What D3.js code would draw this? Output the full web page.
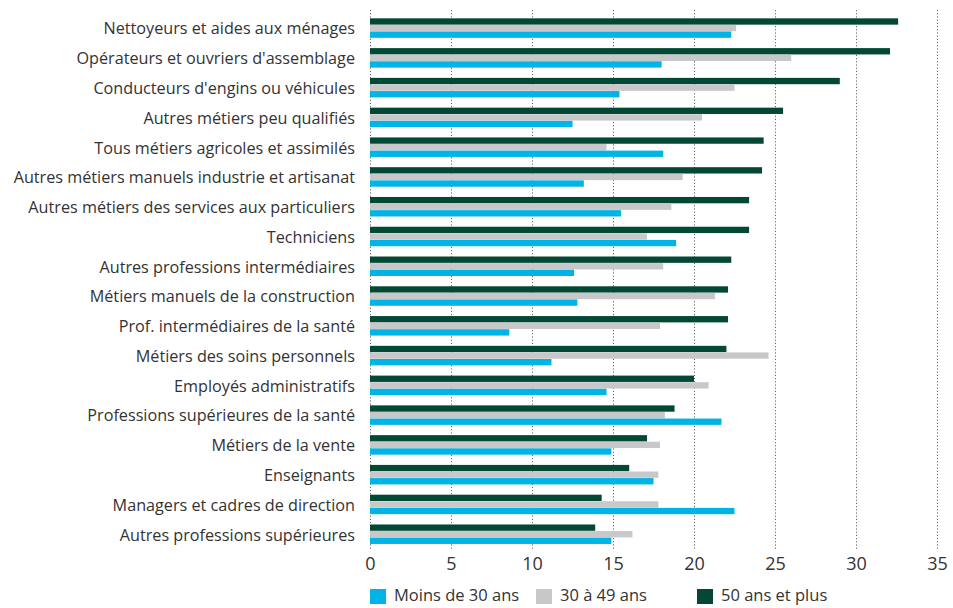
<!DOCTYPE html>
<html><head><meta charset="utf-8">
<script src="https://cdn.jsdelivr.net/npm/d3@7"></script>
<style>
html,body{margin:0;padding:0;background:#fff;}
svg{display:block;font-family:"Open Sans","Noto Sans",sans-serif;}
</style></head>
<body>
<svg id="chart" width="953" height="608"></svg>
<script>
const categories = [
  "Nettoyeurs et aides aux ménages",
  "Opérateurs et ouvriers d'assemblage",
  "Conducteurs d'engins ou véhicules",
  "Autres métiers peu qualifiés",
  "Tous métiers agricoles et assimilés",
  "Autres métiers manuels industrie et artisanat",
  "Autres métiers des services aux particuliers",
  "Techniciens",
  "Autres professions intermédiaires",
  "Métiers manuels de la construction",
  "Prof. intermédiaires de la santé",
  "Métiers des soins personnels",
  "Employés administratifs",
  "Professions supérieures de la santé",
  "Métiers de la vente",
  "Enseignants",
  "Managers et cadres de direction",
  "Autres professions supérieures"
];
const seriesNames = ["50 ans et plus", "30 à 49 ans", "Moins de 30 ans"];
const over50 = [32.6, 32.1, 29.0, 25.5, 24.3, 24.2, 23.4, 23.4, 22.3, 22.1, 22.1, 22.0, 20.0, 18.8, 17.1, 16.0, 14.3, 13.9];
const age30to49 = [22.6, 26.0, 22.5, 20.5, 14.6, 19.3, 18.6, 17.1, 18.1, 21.3, 17.9, 24.6, 20.9, 18.2, 17.9, 17.8, 17.8, 16.2];
const under30 = [22.3, 18.0, 15.4, 12.5, 18.1, 13.2, 15.5, 18.9, 12.6, 12.8, 8.6, 11.2, 14.6, 21.7, 14.9, 17.5, 22.5, 14.9];
const xTicks = [0, 5, 10, 15, 20, 25, 30, 35];
const legendOrder = ["Moins de 30 ans", "30 à 49 ans", "50 ans et plus"];

const colors = {"Moins de 30 ans": "#00b4e5", "30 à 49 ans": "#c8c8ca", "50 ans et plus": "#034834"};
const valuesBySeries = {"50 ans et plus": over50, "30 à 49 ans": age30to49, "Moins de 30 ans": under30};

const svg = d3.select("#chart");
const x = d3.scaleLinear().domain([0, 35]).range([370, 937]);
const y = d3.scaleBand().domain(categories).range([13.2, 549.1]).paddingInner(0.345).paddingOuter(0.1725);
const ySub = d3.scaleBand().domain(seriesNames).range([0, y.bandwidth()]).paddingInner(0.04);

// gridlines
svg.append("g").selectAll("line").data(xTicks).join("line")
  .attr("x1", d => x(d) + 0.5).attr("x2", d => x(d) + 0.5)
  .attr("y1", 10).attr("y2", 550)
  .attr("stroke", "#666").attr("stroke-width", 1)
  .attr("stroke-dasharray", "1.2,2");

// bars
const groups = svg.append("g").selectAll("g").data(categories).join("g")
  .attr("transform", d => `translate(0,${y(d)})`);
seriesNames.forEach(s => {
  groups.append("rect")
    .attr("x", x(0))
    .attr("y", ySub(s))
    .attr("width", (d, i) => x(valuesBySeries[s][i]) - x(0))
    .attr("height", ySub.bandwidth())
    .attr("fill", colors[s]);
});

// category labels
svg.append("g").selectAll("text").data(categories).join("text")
  .attr("x", 355)
  .attr("y", d => y(d) + y.bandwidth() / 2 + 2)
  .attr("text-anchor", "end")
  .attr("dominant-baseline", "middle")
  .attr("font-size", "16.2px")
  .attr("fill", "#333")
  .text(d => d);

// x axis labels
const xAxis = d3.axisBottom(x).tickValues(xTicks).tickSize(0).tickPadding(0);
const ax = svg.append("g").attr("transform", "translate(0,556)").call(xAxis);
ax.select(".domain").remove();
ax.selectAll("text").attr("font-size", "18px").attr("fill", "#333")
  .attr("font-family", "'Open Sans','Noto Sans',sans-serif").attr("dy", "0.75em");

// legend
const legendX = [370, 536, 697];
const lg = svg.append("g").selectAll("g").data(legendOrder).join("g")
  .attr("transform", (d, i) => `translate(${legendX[i]},589)`);
lg.append("rect").attr("width", 16).attr("height", 15).attr("fill", d => colors[d]);
lg.append("text").attr("x", 24).attr("y", 8).attr("dominant-baseline", "middle")
  .attr("font-size", "16.5px").attr("fill", "#333").text(d => d);
</script>
</body></html>
